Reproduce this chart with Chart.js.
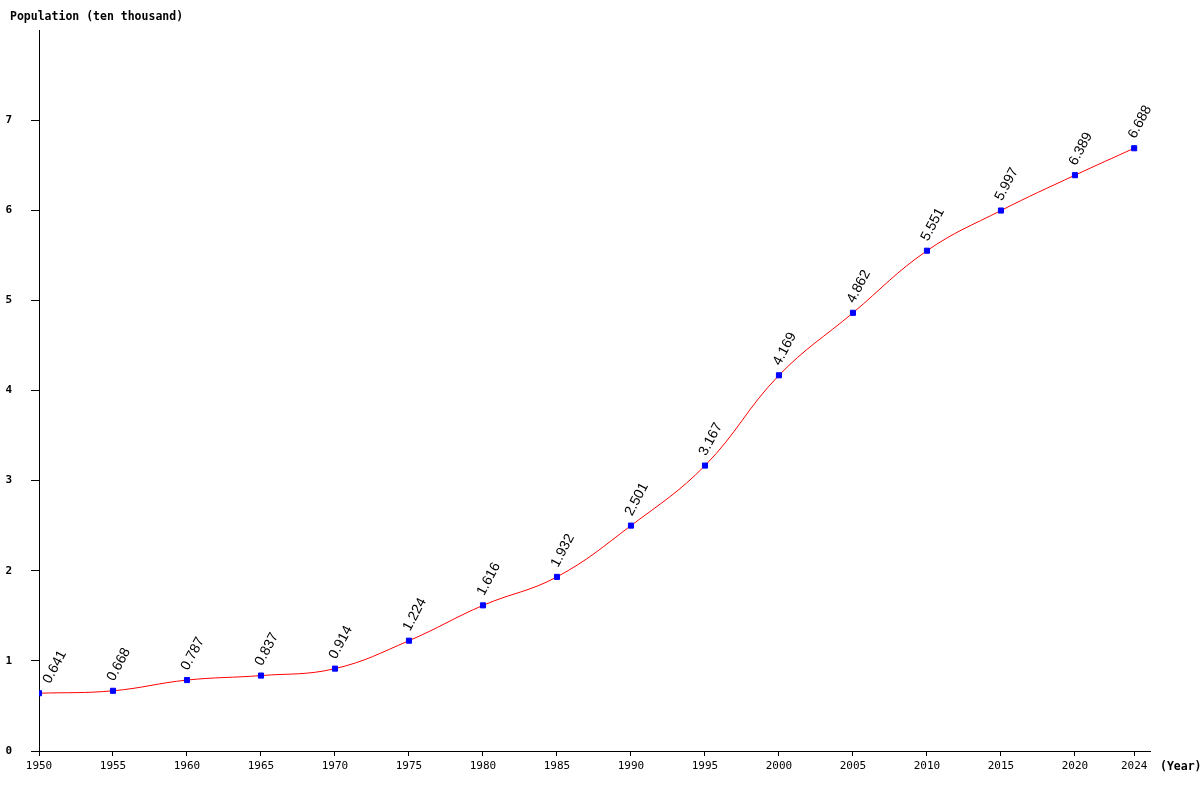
<!DOCTYPE html>
<html>
<head>
<meta charset="utf-8">
<script src="https://cdn.jsdelivr.net/npm/chart.js@4.4.1/dist/chart.umd.min.js"></script>
<style>
  html, body { margin: 0; padding: 0; background: #fff; overflow: hidden; }
  #popChart { display: block; }
</style>
</head>
<body>
<canvas id="popChart" width="1200" height="800"></canvas>
<script>
// datos de la gráfica
const years = [1950, 1955, 1960, 1965, 1970, 1975, 1980, 1985, 1990, 1995, 2000, 2005, 2010, 2015, 2020, 2024];
const population = [0.641, 0.668, 0.787, 0.837, 0.914, 1.224, 1.616, 1.932, 2.501, 3.167, 4.169, 4.862, 5.551, 5.997, 6.389, 6.688];
const xTicks = [1950, 1955, 1960, 1965, 1970, 1975, 1980, 1985, 1990, 1995, 2000, 2005, 2010, 2015, 2020, 2024];
const yTicks = [0, 1, 2, 3, 4, 5, 6, 7];

const monoFont = '"DejaVu Sans Mono", "Liberation Mono", monospace';

// etiquetas giradas sobre cada punto y títulos de ejes
const labelsPlugin = {
    id: 'labelsPlugin',
    afterDatasetsDraw(chart) {
        const ctx = chart.ctx;
        const meta = chart.getDatasetMeta(0);
        const left = chart.chartArea.left;
        ctx.save();
        ctx.fillStyle = '#000';
        ctx.font = '14px "Liberation Sans", Arial, sans-serif';
        ctx.textAlign = 'left';
        ctx.textBaseline = 'alphabetic';
        meta.data.forEach((pt, i) => {
            // no dejar que la etiqueta cruce el eje
            const ax = Math.max(pt.x + 1, left + 11);
            ctx.save();
            ctx.translate(ax, pt.y - 9);
            ctx.rotate(-62 * Math.PI / 180);
            ctx.fillText(population[i].toFixed(3), 0, 0);
            ctx.restore();
        });
        ctx.font = 'bold 11.5px ' + monoFont;
        ctx.textBaseline = 'middle';
        ctx.fillText('Population (ten thousand)', 10, 17);
        ctx.fillText('(Year)', 1160, 767);
        ctx.restore();
    }
};

const ctx = document.getElementById('popChart').getContext('2d');
new Chart(ctx, {
    type: 'line',
    data: {
        datasets: [{
            label: 'Population',
            data: years.map((y, i) => ({ x: y, y: population[i] })),
            borderColor: '#ff0000',
            borderWidth: 1,
            tension: 0.4,
            pointStyle: 'rect',
            pointRadius: 3.6,
            pointBackgroundColor: '#0000ff',
            pointBorderColor: '#0000ff',
            fill: false
        }]
    },
    options: {
        responsive: false,
        animation: false,
        devicePixelRatio: 1,
        layout: { padding: { top: 30, right: 50, left: 0, bottom: 0 } },
        plugins: {
            legend: { display: false },
            tooltip: { enabled: false }
        },
        scales: {
            x: {
                type: 'linear',
                min: 1950,
                max: 2025.07,
                afterBuildTicks: s => { s.ticks = xTicks.map(v => ({ value: v })); },
                afterFit: s => { s.height = 49; },
                grid: { drawOnChartArea: false, drawTicks: true, tickLength: 5, color: '#000' },
                border: { display: true, color: '#000', width: 1 },
                ticks: {
                    color: '#000',
                    font: { family: monoFont, size: 11 },
                    padding: 4,
                    maxRotation: 0,
                    autoSkip: false,
                    callback: v => String(v)
                }
            },
            y: {
                type: 'linear',
                min: 0,
                max: 8,
                afterBuildTicks: s => { s.ticks = yTicks.map(v => ({ value: v })); },
                afterFit: s => { s.width = 39; },
                grid: { drawOnChartArea: false, drawTicks: true, tickLength: 8, color: '#000' },
                border: { display: true, color: '#000', width: 1 },
                ticks: {
                    color: '#000',
                    font: { family: monoFont, size: 11, weight: 'bold' },
                    padding: 19
                }
            }
        }
    },
    plugins: [labelsPlugin]
});
</script>
</body>
</html>
